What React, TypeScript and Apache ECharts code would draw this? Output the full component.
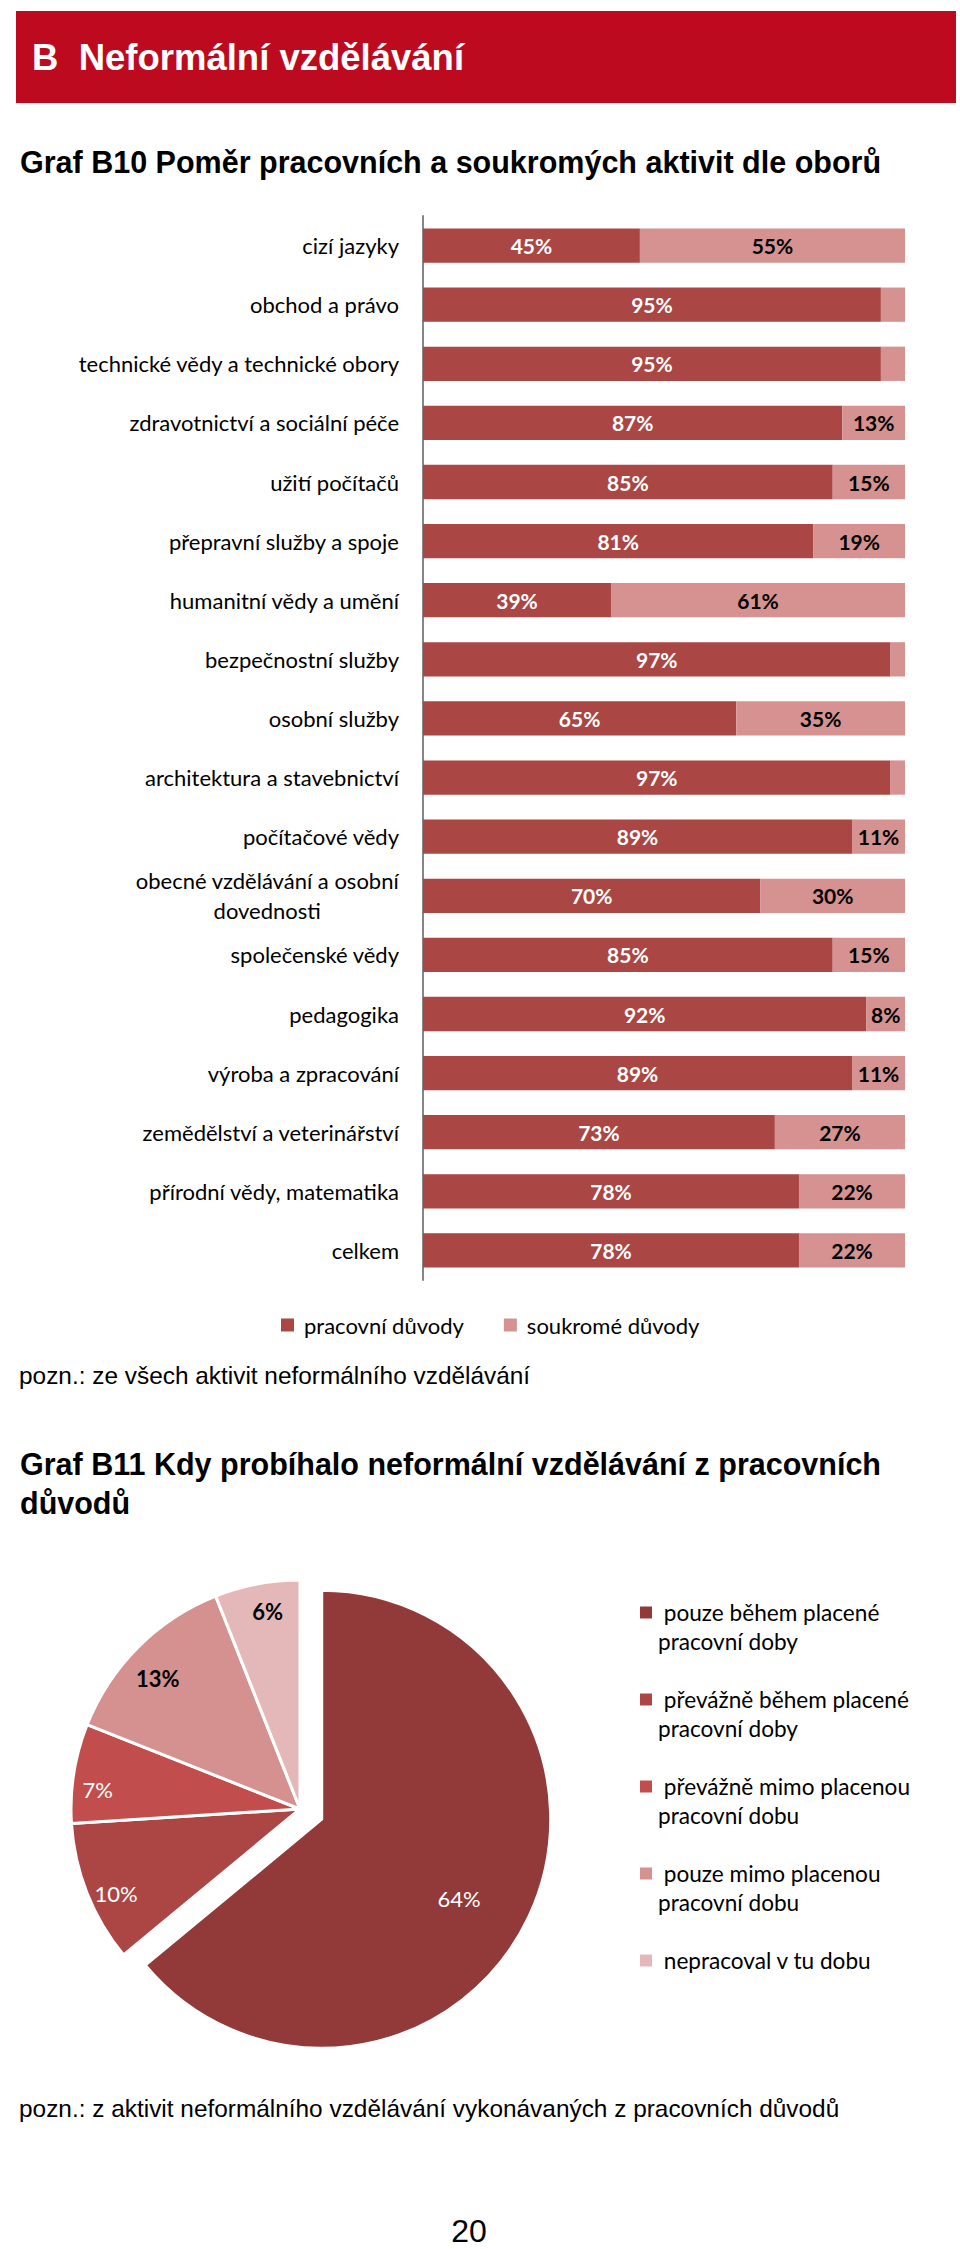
import React, { useEffect, useRef } from "react";
import * as echarts from "echarts";

const categories = [
  "cizí jazyky",
  "obchod a právo",
  "technické vědy a technické obory",
  "zdravotnictví a sociální péče",
  "užití počítačů",
  "přepravní služby a spoje",
  "humanitní vědy a umění",
  "bezpečnostní služby",
  "osobní služby",
  "architektura a stavebnictví",
  "počítačové vědy",
  "obecné vzdělávání a osobní dovednosti",
  "společenské vědy",
  "pedagogika",
  "výroba a zpracování",
  "zemědělství a veterinářství",
  "přírodní vědy, matematika",
  "celkem",
];
const pracovni = [45, 95, 95, 87, 85, 81, 39, 97, 65, 97, 89, 70, 85, 92, 89, 73, 78, 78];
const soukrome = [55, 5, 5, 13, 15, 19, 61, 3, 35, 3, 11, 30, 15, 8, 11, 27, 22, 22];
const barSeriesNames = ["pracovní důvody", "soukromé důvody"];

const pieNames = [
  "pouze během placené pracovní doby",
  "převážně během placené pracovní doby",
  "převážně mimo placenou pracovní dobu",
  "pouze mimo placenou pracovní dobu",
  "nepracoval v tu dobu",
];
const pieValues = [64, 10, 7, 13, 6];

const headerText = "B  Neformální vzdělávání";
const titleB10 = "Graf B10 Poměr pracovních a soukromých aktivit dle oborů";
const noteB10 = "pozn.: ze všech aktivit neformálního vzdělávání";
const titleB11a = "Graf B11 Kdy probíhalo neformální vzdělávání z pracovních";
const titleB11b = "důvodů";
const noteB11 = "pozn.: z aktivit neformálního vzdělávání vykonávaných z pracovních důvodů";
const pageNumber = "20";

const DARK = "#AA4643";
const LIGHT = "#D59290";
const PIE_COLORS = ["#923A39", "#AB4644", "#C14E4C", "#D49190", "#E4B8B8"];
const PIE_LABEL_COLORS = ["#fff", "#fff", "#fff", "#000", "#000"];
const PIE_LABEL_WEIGHTS = ["normal", "normal", "normal", "bold", "bold"];
const PIE_LABEL_FRAC = [0.68, 0.87, 0.875, 0.83, 0.86];
const PIE_LABEL_ROT = [5, -3, -3.5, -2.5, 1.5];
const LBL = "Lato";
const HEAD = "'Liberation Sans', Arial, sans-serif";

const PIE_C = [300, 1809];
const PIE_R = 229;
const PIE_OFFSET = 24;

function wrapCategory(v: string) {
  if (v.length > 34) {
    const cut = v.lastIndexOf(" ", 27);
    return "{c|" + v.slice(0, cut) + "}\n{c|" + v.slice(cut + 1) + "}";
  }
  return v;
}

function wrapLegend(name: string) {
  const w = name.split(" ");
  if (w.length > 4) {
    return "\n " + w.slice(0, -2).join(" ") + "\n" + w.slice(-2).join(" ");
  }
  return "\n " + name + "\n ";
}

export default function App() {
  const ref = useRef<HTMLDivElement>(null);
  useEffect(() => {
    if (!ref.current) return;
    const chart = echarts.init(ref.current, undefined, { renderer: "svg" });
    const option: any = {
      animation: false,
      backgroundColor: "#fff",
      graphic: [
        { type: "rect", shape: { x: 16, y: 11, width: 940, height: 92 }, style: { fill: "#BE0A1E" } },
        {
          type: "text", x: 32, y: 57,
          style: { text: headerText, fill: "#fff", font: "bold 36.5px " + HEAD, verticalAlign: "middle" },
        },
        {
          type: "text", x: 20, y: 162,
          style: { text: titleB10, fill: "#000", font: "bold 30.5px " + HEAD, verticalAlign: "middle" },
        },
        {
          type: "text", x: 19, y: 1375,
          style: { text: noteB10, fill: "#000", font: "24.4px " + HEAD, verticalAlign: "middle" },
        },
        {
          type: "text", x: 20, y: 1464,
          style: { text: titleB11a, fill: "#000", font: "bold 30.5px " + HEAD, verticalAlign: "middle" },
        },
        {
          type: "text", x: 20, y: 1503,
          style: { text: titleB11b, fill: "#000", font: "bold 30.5px " + HEAD, verticalAlign: "middle" },
        },
        {
          type: "text", x: 19, y: 2108,
          style: { text: noteB11, fill: "#000", font: "24.4px " + HEAD, verticalAlign: "middle" },
        },
        {
          type: "text", x: 469, y: 2231,
          style: { text: pageNumber, fill: "#000", font: "32px " + HEAD, verticalAlign: "middle", align: "center" },
        },
      ],
      legend: [
        {
          data: barSeriesNames,
          left: 276,
          top: 1309,
          itemWidth: 13,
          itemHeight: 13,
          itemGap: 40,
          icon: "rect",
          selectedMode: false,
          textStyle: { fontFamily: LBL, fontSize: 22, color: "#000", padding: [0, 0, 0, 5] },
        },
        {
          data: pieNames,
          orient: "vertical",
          left: 633,
          top: 1564,
          itemWidth: 14,
          itemHeight: 14,
          itemGap: 0,
          icon: "rect",
          selectedMode: false,
          formatter: wrapLegend,
          textStyle: { fontFamily: LBL, fontSize: 22.6, lineHeight: 29, color: "#000" },
        },
      ],
      grid: { left: 423, top: 216, width: 482, height: 1064, containLabel: false },
      xAxis: { type: "value", min: 0, max: 100, show: false },
      yAxis: {
        type: "category",
        data: categories,
        inverse: true,
        axisLine: { lineStyle: { color: "#868686", width: 2 } },
        axisTick: { length: 7, lineStyle: { color: "#868686", width: 2 } },
        axisLabel: {
          margin: 24,
          fontFamily: LBL,
          fontSize: 22,
          color: "#000",
          formatter: wrapCategory,
          rich: { c: { align: "center", fontFamily: LBL, fontSize: 22, color: "#000", lineHeight: 30 } },
        },
      },
      series: [
        {
          name: barSeriesNames[0],
          type: "bar",
          stack: "total",
          barCategoryGap: "42%",
          data: pracovni,
          itemStyle: { color: DARK },
          label: {
            show: true,
            position: "inside",
            color: "#fff",
            fontFamily: LBL,
            fontWeight: "bold",
            fontSize: 21,
            formatter: (p: any) => (p.value >= 8 ? p.value + "%" : ""),
          },
        },
        {
          name: barSeriesNames[1],
          type: "bar",
          stack: "total",
          barCategoryGap: "42%",
          data: soukrome,
          itemStyle: { color: LIGHT },
          label: {
            show: true,
            position: "inside",
            color: "#000",
            fontFamily: LBL,
            fontWeight: "bold",
            fontSize: 21,
            formatter: (p: any) => (p.value >= 8 ? p.value + "%" : ""),
          },
        },
        {
          name: "B11",
          type: "pie",
          center: PIE_C,
          radius: PIE_R,
          startAngle: 90,
          clockwise: true,
          selectedMode: "single",
          selectedOffset: PIE_OFFSET,
          emphasis: { disabled: true },
          itemStyle: { borderColor: "#fff", borderWidth: 3 },
          select: { itemStyle: { borderColor: "#fff", borderWidth: 3 } },
          label: {
            show: true,
            position: "inside",
            fontFamily: LBL,
            fontSize: 22,
            formatter: "{c}%",
          },
          labelLine: { show: false },
          labelLayout: (params: any) => {
            const i = params.dataIndex;
            const f = PIE_LABEL_FRAC[i] ?? 0.5;
            const rot = PIE_LABEL_ROT[i] ?? 0;
            const lr = params.labelRect;
            const lx = lr.x + lr.width / 2;
            const ly = lr.y + lr.height / 2;
            const vx = lx - PIE_C[0];
            const vy = ly - PIE_C[1];
            const d = Math.hypot(vx, vy) || 1;
            const ux = vx / d;
            const uy = vy / d;
            const phi = Math.atan2(uy, ux) + (rot * Math.PI) / 180;
            const tx = f * PIE_R * Math.cos(phi);
            const ty = f * PIE_R * Math.sin(phi);
            return { dx: tx - 0.5 * PIE_R * ux, dy: ty - 0.5 * PIE_R * uy };
          },
          data: pieNames.map((n, i) => ({
            name: n,
            value: pieValues[i],
            selected: i === 0,
            itemStyle: { color: PIE_COLORS[i] },
            label: { color: PIE_LABEL_COLORS[i], fontWeight: PIE_LABEL_WEIGHTS[i] },
          })),
        },
      ],
    };
    chart.setOption(option);
    return () => chart.dispose();
  }, []);
  return (
    <div
      ref={ref}
      style={{ position: "absolute", left: 0, top: 0, width: 960, height: 2249, background: "#fff" }}
    />
  );
}
